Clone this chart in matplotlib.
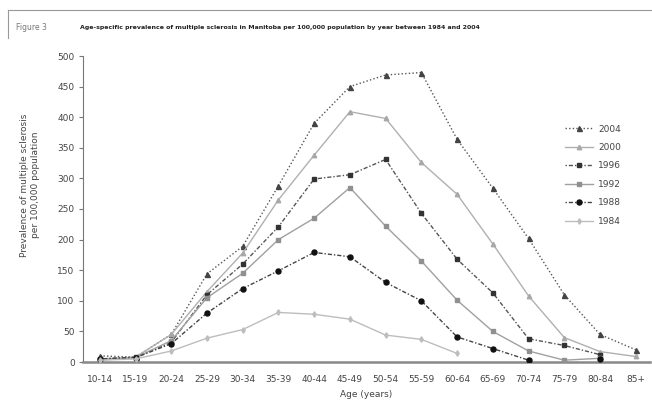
import numpy as np
import matplotlib
matplotlib.use("Agg")
import matplotlib.pyplot as plt
from matplotlib.lines import Line2D

nan = np.nan
ages = ["10-14", "15-19", "20-24", "25-29", "30-34", "35-39", "40-44", "45-49",
        "50-54", "55-59", "60-64", "65-69", "70-74", "75-79", "80-84", "85+"]

y2004 = [10, 8, 45, 144, 189, 288, 390, 450, 469, 473, 364, 284, 202, 110, 45, 20]
y2000 = [5, 8, 45, 115, 178, 265, 338, 409, 398, 326, 274, 193, 108, 40, 17, 9]
y1996 = [5, 8, 32, 110, 160, 221, 299, 306, 331, 243, 168, 113, 38, 27, 12, nan]
y1992 = [3, 7, 35, 105, 145, 200, 235, 285, 222, 165, 101, 50, 18, 3, 6, nan]
y1988 = [5, 7, 30, 80, 120, 149, 179, 172, 130, 100, 41, 22, 3, nan, 5, nan]
y1984 = [3, 5, 18, 39, 53, 81, 78, 70, 44, 37, 14, nan, nan, nan, nan, nan]

series = [
    ("2004", y2004, (0, (1, 1.6)), "^", "#555555", "#444444", 3.6),
    ("2000", y2000, "-", "^", "#b0b0b0", "#a8a8a8", 3.2),
    ("1996", y1996, (0, (1, 1.4, 3, 1.4)), "s", "#555555", "#333333", 3.4),
    ("1992", y1992, "-", "s", "#a0a0a0", "#909090", 3.2),
    ("1988", y1988, (0, (1, 1.4, 3, 1.4)), "o", "#444444", "#111111", 3.6),
    ("1984", y1984, "-", "d", "#bdbdbd", "#bdbdbd", 2.8),
]

fig = plt.figure(figsize=(6.52, 4.04), dpi=100)
ax = fig.add_axes([83 / 652, 42 / 404, 567 / 652, 306 / 404])

x = np.arange(len(ages))
handles = []
for name, vals, ls, mk, lc, mc, ms in series:
    ax.plot(x, vals, ls=ls, lw=1.0, color=lc, marker=mk, ms=ms,
            mfc=mc, mec=mc, zorder=3)
    handles.append(Line2D([], [], ls=ls, lw=1.0, color=lc, marker=mk, ms=ms,
                          mfc=mc, mec=mc, label=name))

ax.set_xlim(-0.47, 15.4)
ax.set_ylim(0, 500)
ax.set_yticks(np.arange(0, 501, 50))
ax.set_xticks(x)
ax.set_xticklabels(ages)
for s in ("top", "right"):
    ax.spines[s].set_visible(False)
ax.spines["left"].set_color("#777777")
ax.spines["bottom"].set_color("#888888")
ax.spines["bottom"].set_linewidth(1.8)
ax.tick_params(axis="y", length=3, color="#777777", labelsize=6.5,
               labelcolor="#444444", pad=3)
ax.tick_params(axis="x", length=0, labelsize=6.5, labelcolor="#444444", pad=9)

ax.set_xlabel("Age (years)", fontsize=6.5, color="#444444", labelpad=5)
fig.text(30 / 652, 1 - 185 / 404,
         "Prevalence of multiple sclerosis\nper 100,000 population",
         rotation=90, ha="center", va="center", fontsize=6.5, color="#444444",
         linespacing=1.2)

leg = ax.legend(handles=handles, loc="upper left",
                bbox_to_anchor=(560 / 652, 1 - 120 / 404),
                bbox_transform=fig.transFigure, frameon=False, fontsize=6.5,
                handlelength=3.2, handletextpad=0.5, labelspacing=1.05,
                borderpad=0)
for t in leg.get_texts():
    t.set_color("#444444")

# frame around the figure caption
fig.add_artist(Line2D([8 / 652, 8 / 652], [1 - 38 / 404, 1 - 10 / 404],
                      transform=fig.transFigure, color="#999999", lw=0.8))
fig.add_artist(Line2D([8 / 652, 1.0], [1 - 10 / 404, 1 - 10 / 404],
                      transform=fig.transFigure, color="#999999", lw=0.8))
fig.text(16 / 652, 1 - 27 / 404, "Figure 3", fontsize=5.5, color="#777777",
         va="center")
fig.text(80 / 652, 1 - 27 / 404,
         "Age-specific prevalence of multiple sclerosis in Manitoba per 100,000 "
         "population by year between 1984 and 2004",
         fontsize=4.5, color="#222222", va="center", fontweight="bold")

fig.savefig("out.png", dpi=100)
